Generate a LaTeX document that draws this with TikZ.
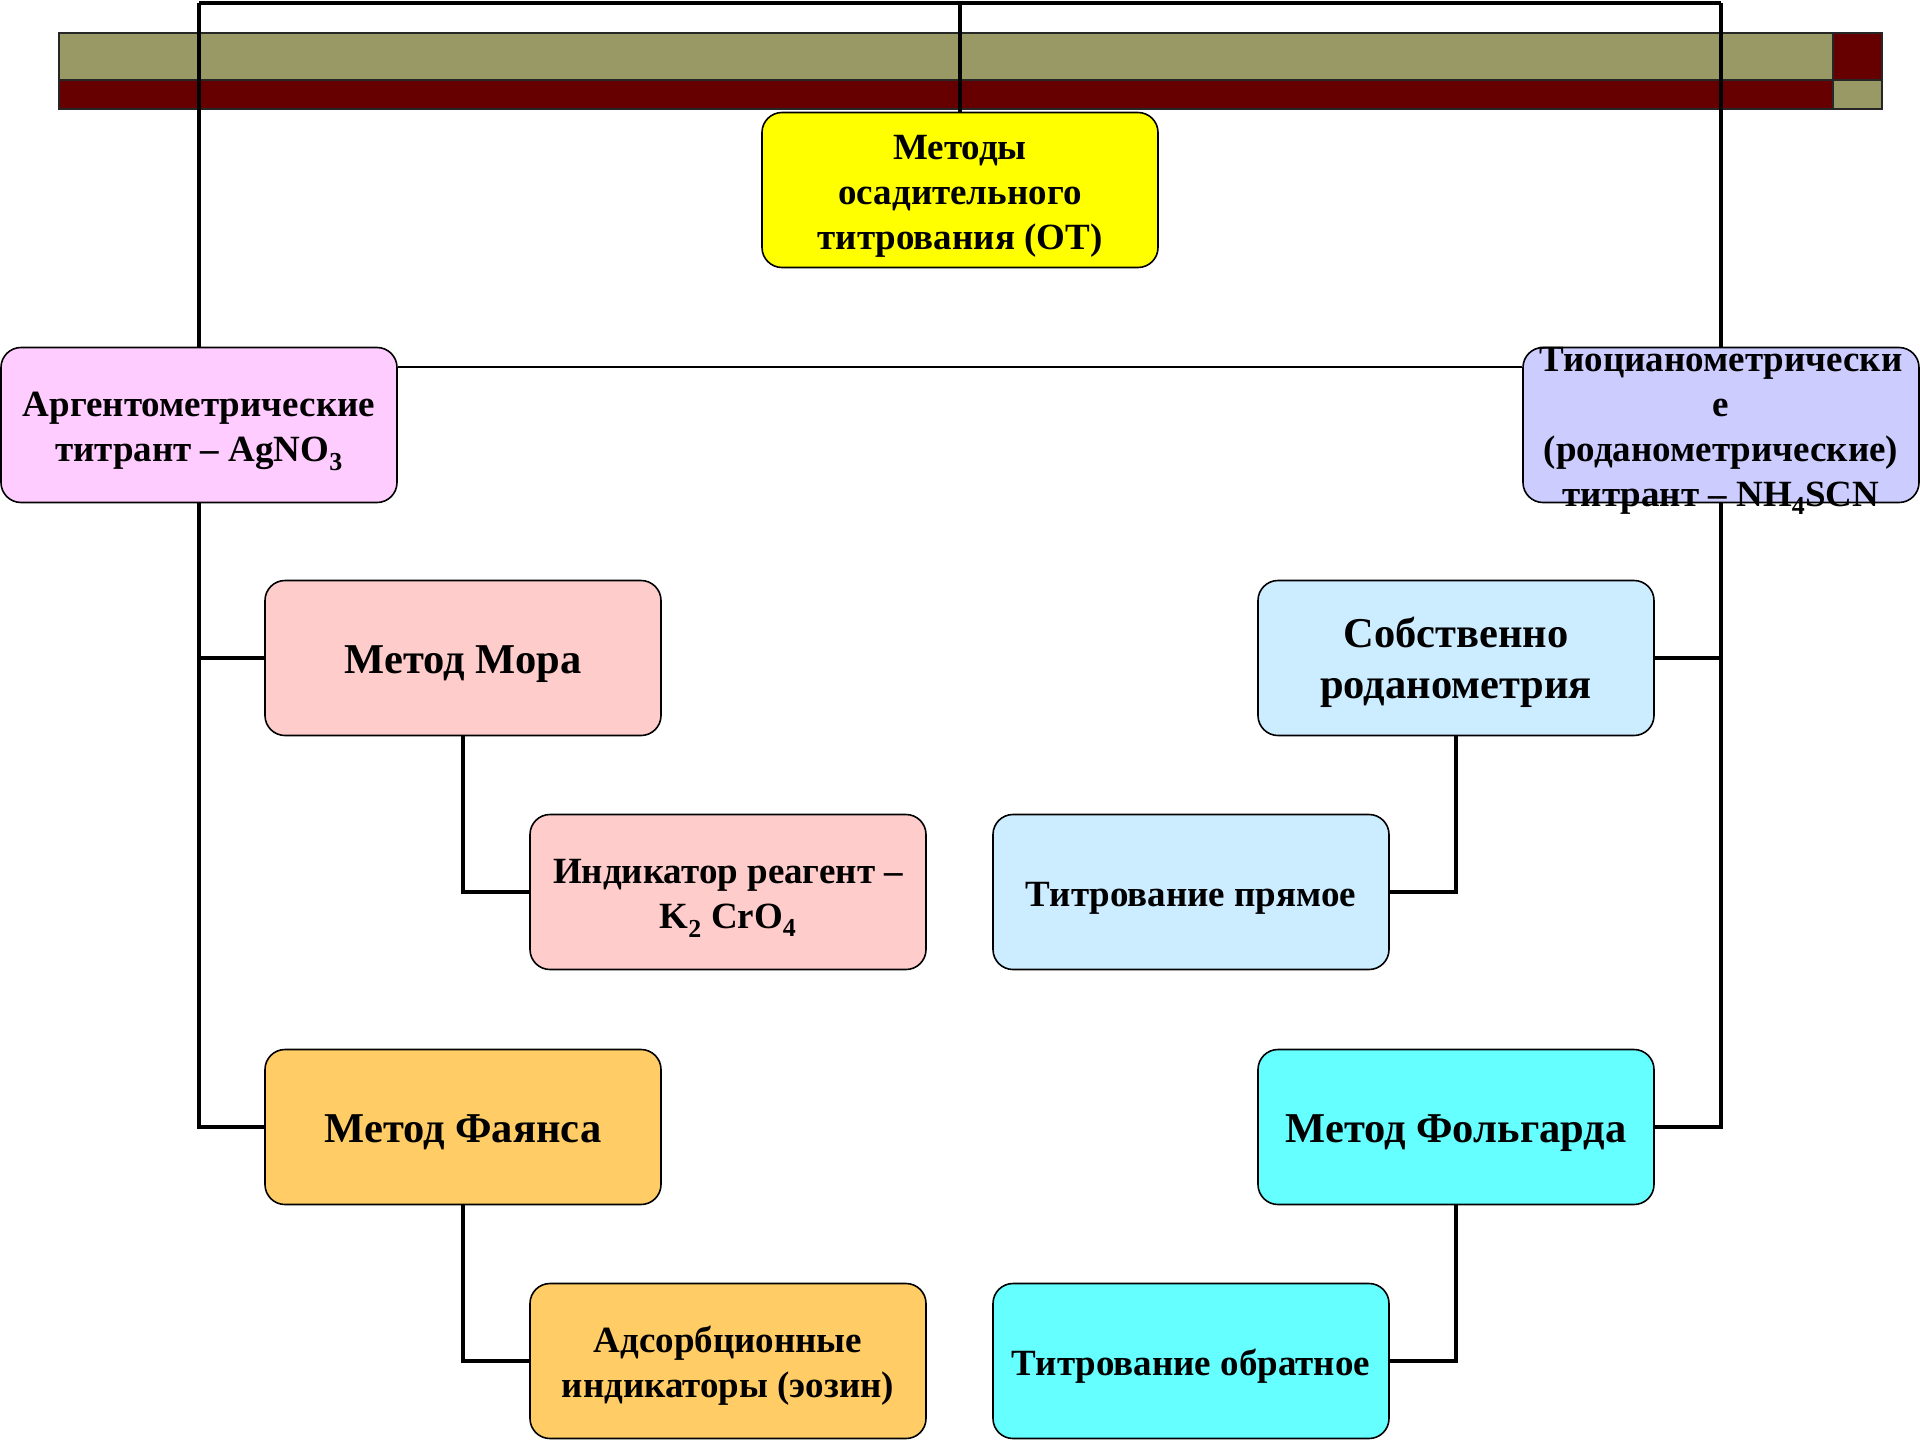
\documentclass[tikz,border=0pt]{standalone}
\usepackage{fontspec}
\setmainfont{Liberation Serif}
\definecolor{olivebar}{HTML}{999966}
\definecolor{maroonbar}{HTML}{660000}
\definecolor{cYellow}{HTML}{FFFF00}
\definecolor{cArg}{HTML}{FFCCFF}
\definecolor{cTio}{HTML}{CCCCFF}
\definecolor{cMora}{HTML}{FFCCCC}
\definecolor{cFai}{HTML}{FFCC66}
\definecolor{cSob}{HTML}{CCECFF}
\definecolor{cFol}{HTML}{66FFFF}
\newcommand\chsub[1]{\textsubscript{#1}}
% centred lines of a box label, set a little below the geometric centre
\newcommand\boxtext[1]{\raisebox{0pt}[\dimexpr\height+10pt\relax]{\begin{tabular}{@{}c@{}}#1\end{tabular}}}
% same, for a label taller than its box: it spills over the frame
\newcommand\boxtextover[1]{\raisebox{0pt}[\dimexpr\height-10pt\relax][\dimexpr\depth-20pt\relax]{\begin{tabular}{@{}c@{}}#1\end{tabular}}}
\begin{document}
\begin{tikzpicture}[x=1pt,y=-1pt,
  box/.style={draw=black, line width=1.6pt, rounded corners=20pt,
    minimum width=396pt, minimum height=155pt, inner sep=0pt,
    font=\bfseries\fontsize{37}{45}\selectfont},
  bigtext/.style={font=\bfseries\fontsize{42.5}{51}\selectfont},
  trunk/.style={line width=4pt},
  thinlink/.style={line width=2pt}]
\useasboundingbox (0,0) rectangle (1920,1440);

% header bands
\fill[olivebar] (59,33) rectangle (1833,80);
\fill[maroonbar] (59,80) rectangle (1833,109);
\fill[maroonbar] (1833,33) rectangle (1882,80);
\fill[olivebar] (1833,80) rectangle (1882,109);
\draw[line width=2pt, black!85] (59,33) rectangle (1833,80);
\draw[line width=2pt, black!85] (59,80) rectangle (1833,109);
\draw[line width=2pt, black!85] (1833,33) rectangle (1882,80);
\draw[line width=2pt, black!85] (1833,80) rectangle (1882,109);

% frame coordinates for the trunks
\coordinate (tl) at (199,3);
\coordinate (tc) at (960,3);
\coordinate (tr) at (1721,3);

% boxes
\node[box, fill=cYellow] (top) at (960,190) {\boxtext{Методы\\осадительного\\титрования (ОТ)}};
\node[box, fill=cArg] (arg) at (199,425) {\boxtext{Аргентометрические\\титрант – AgNO\chsub{3}}};
\node[box, fill=cTio] (tio) at (1721,425) {\boxtextover{Тиоцианометрически\\е\\(роданометрические)\\титрант – NH\chsub{4}SCN}};
\node[box, fill=cMora, bigtext] (mora) at (463,658) {\boxtext{Метод Мора}};
\node[box, fill=cMora] (ind) at (728,892) {\boxtext{Индикатор реагент –\\K\chsub{2} CrO\chsub{4}}};
\node[box, fill=cFai, bigtext] (fai) at (463,1127) {\boxtext{Метод Фаянса}};
\node[box, fill=cFai] (ads) at (728,1361) {\boxtext{Адсорбционные\\индикаторы (эозин)}};
\node[box, fill=cSob, bigtext] (sob) at (1456,658) {\boxtext{Собственно\\роданометрия}};
\node[box, fill=cSob] (pry) at (1191,892) {\boxtext{Титрование прямое}};
\node[box, fill=cFol, bigtext] (fol) at (1456,1127) {\boxtext{Метод Фольгарда}};
\node[box, fill=cFol] (obr) at (1191,1361) {\boxtext{Титрование обратное}};

% connectors
\begin{scope}[trunk]
  \draw (tl) -- (tr);
  \draw (tc) -- (top.north);
  \draw (tl) -- (arg.north);
  \draw (arg.south) |- (fai.west);
  \draw (mora.west) -| (arg.south);
  \draw (tr) -- (tio.north);
  \draw (tio.south) |- (fol.east);
  \draw (sob.east) -| (tio.south);
  \draw (mora.south) |- (ind.west);
  \draw (fai.south) |- (ads.west);
  \draw (sob.south) |- (pry.east);
  \draw (fol.south) |- (obr.east);
\end{scope}
\draw[thinlink] (arg.east |- 0,367) -- (tio.west |- 0,367);
\end{tikzpicture}
\end{document}
